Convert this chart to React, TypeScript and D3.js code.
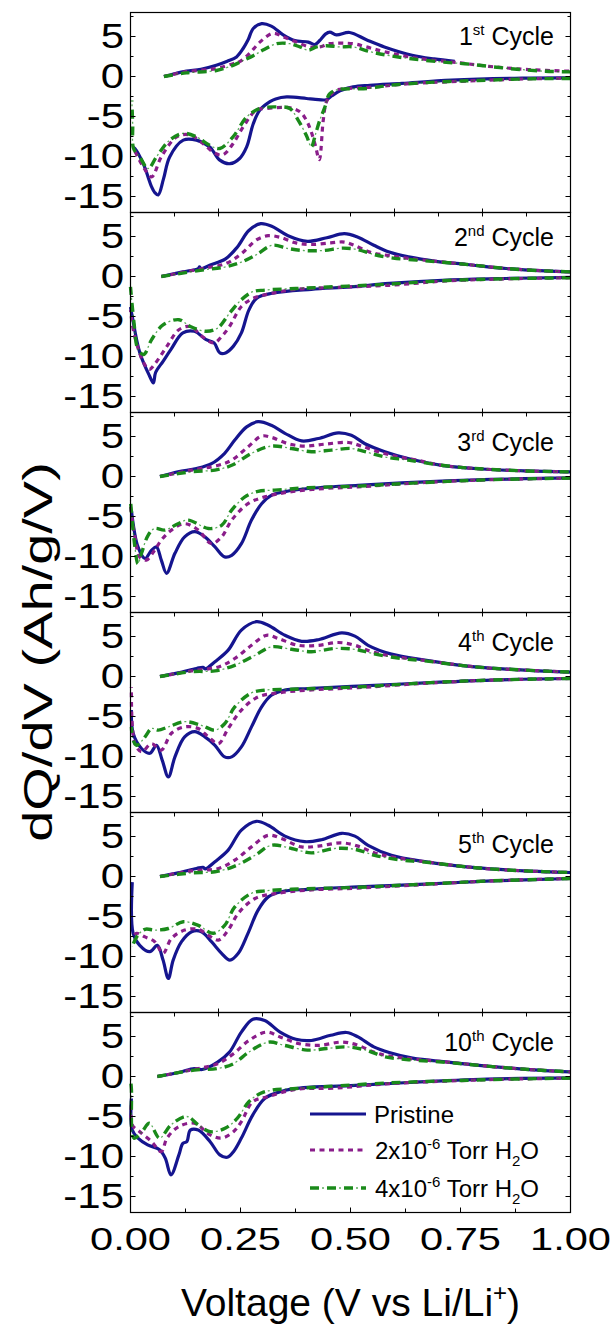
import React from 'react';
import * as d3 from 'd3';

type Pt = [number, number];

// ---------- tick / label data ----------
const xTickLabels = ['0.00', '0.25', '0.50', '0.75', '1.00'];
const xTickValues = [0, 0.25, 0.5, 0.75, 1.0];
const yMajorTicks = [5, 0, -5, -10, -15];
const yMinorTicks = [7.5, 2.5, -2.5, -7.5, -12.5];
const cycleNumbers = ['1', '2', '3', '4', '5', '10'];
const cycleSuffixes = ['st', 'nd', 'rd', 'th', 'th', 'th'];
const seriesNames = ['Pristine', '2x10', '4x10'];

// ---------- Cycle 1 ----------
const c1PristineCharge: Pt[] = [[0.076,0],[0.10,0.35],[0.127,0.67],[0.16,0.9],[0.195,1.4],[0.22,1.9],[0.241,2.45],[0.256,3.5],[0.267,4.55],[0.279,6.0],[0.298,6.6],[0.32,6.3],[0.347,5.2],[0.373,4.5],[0.404,4.3],[0.419,4.0],[0.43,4.5],[0.443,5.3],[0.453,5.55],[0.468,5.2],[0.498,5.5],[0.536,4.6],[0.577,3.7],[0.64,2.66],[0.69,2.2],[0.737,1.9]];
const c1PristineDischarge: Pt[] = [[1.0,-0.17],[0.89,-0.2],[0.73,-0.45],[0.617,-0.85],[0.544,-1.1],[0.506,-1.3],[0.476,-1.8],[0.458,-2.4],[0.445,-2.9],[0.42,-2.85],[0.4,-2.75],[0.355,-2.55],[0.33,-2.8],[0.317,-3.15],[0.294,-4.2],[0.279,-5.9],[0.264,-8.8],[0.248,-10.25],[0.226,-10.9],[0.203,-10.45],[0.18,-8.8],[0.15,-7.95],[0.12,-7.95],[0.089,-10.05],[0.075,-12.8],[0.063,-14.8],[0.055,-14.5],[0.048,-13.8],[0.029,-10.9],[0.01,-9.0],[0.005,-8.8]];
const c1H2Charge: Pt[] = [[0.076,0],[0.127,0.6],[0.195,1.0],[0.233,1.6],[0.248,1.85],[0.271,2.9],[0.294,4.3],[0.324,5.4],[0.347,4.95],[0.377,4.3],[0.407,3.7],[0.43,3.7],[0.453,4.1],[0.506,4.1],[0.536,3.7],[0.577,3.1],[0.655,2.25],[0.733,1.8],[0.764,1.6],[0.827,1.2],[0.905,0.87],[1.0,0.66]];
const c1H2Discharge: Pt[] = [[1.0,-0.2],[0.9,-0.3],[0.75,-0.6],[0.62,-0.95],[0.544,-1.35],[0.506,-1.45],[0.468,-1.7],[0.455,-2.3],[0.445,-3.2],[0.438,-5.5],[0.429,-10.4],[0.42,-8.6],[0.41,-6.8],[0.4,-5.5],[0.385,-4.4],[0.36,-3.9],[0.309,-4.0],[0.286,-4.2],[0.256,-6.3],[0.233,-8.4],[0.21,-9.8],[0.192,-9.6],[0.165,-8.4],[0.135,-7.3],[0.105,-7.55],[0.07,-10.05],[0.048,-12.55],[0.029,-11.3],[0.01,-9.4],[0.004,-9.0]];
const c1H4Charge: Pt[] = [[0.076,0],[0.127,0.45],[0.195,0.75],[0.233,1.4],[0.256,2.0],[0.279,2.6],[0.301,3.3],[0.332,4.1],[0.362,4.1],[0.385,3.7],[0.404,3.3],[0.423,3.7],[0.445,3.85],[0.475,3.7],[0.506,3.7],[0.545,3.1],[0.59,2.6],[0.655,2.1],[0.733,1.7],[0.76,1.6],[0.86,1.0],[0.943,0.66],[1.0,0.58]];
const c1H4Discharge: Pt[] = [[1.0,-0.25],[0.905,-0.3],[0.79,-0.5],[0.69,-0.7],[0.59,-1.1],[0.538,-1.5],[0.47,-1.65],[0.452,-2.2],[0.442,-3.8],[0.43,-5.5],[0.42,-7.3],[0.411,-8.8],[0.4,-7.4],[0.381,-5.45],[0.362,-4.0],[0.332,-3.8],[0.294,-4.0],[0.264,-5.05],[0.233,-7.55],[0.203,-9.0],[0.18,-8.6],[0.15,-7.55],[0.12,-7.1],[0.089,-7.95],[0.059,-10.05],[0.04,-11.5],[0.021,-10.05],[0.007,-9.0],[0.005,-6.0],[0.003,-3.0]];

// ---------- Cycle 2 ----------
const c2PristineCharge: Pt[] = [[0.07,0],[0.119,0.58],[0.154,1.0],[0.157,1.2],[0.16,0.95],[0.18,1.4],[0.216,2.2],[0.243,3.7],[0.269,5.75],[0.296,6.6],[0.322,6.25],[0.358,5.1],[0.402,4.4],[0.446,4.85],[0.486,5.35],[0.517,4.9],[0.553,3.9],[0.588,3.05],[0.632,2.45],[0.694,1.9],[0.765,1.5],[0.854,1.0],[0.942,0.7],[1.0,0.58]];
const c2PristineDischarge: Pt[] = [[1.0,-0.12],[0.854,-0.25],[0.72,-0.45],[0.588,-0.87],[0.5,-1.3],[0.411,-1.6],[0.322,-2.1],[0.287,-2.7],[0.269,-4.2],[0.252,-7.05],[0.234,-8.7],[0.216,-9.55],[0.203,-9.55],[0.19,-8.3],[0.172,-7.9],[0.145,-6.85],[0.119,-7.05],[0.092,-9.1],[0.074,-10.6],[0.057,-12.0],[0.052,-13.3],[0.043,-12.4],[0.021,-9.5],[0.004,-5.0],[0.0,-3.8]];
const c2H2Charge: Pt[] = [[0.07,0],[0.163,1.0],[0.216,1.6],[0.252,2.85],[0.287,4.6],[0.313,5.1],[0.34,4.9],[0.376,4.2],[0.411,4.0],[0.455,4.2],[0.486,4.3],[0.508,3.9],[0.544,3.05],[0.588,2.6],[0.641,2.2],[0.694,1.9],[0.765,1.5],[0.854,1.0],[0.942,0.7],[1.0,0.58]];
const c2H2Discharge: Pt[] = [[1.0,-0.15],[0.854,-0.3],[0.72,-0.55],[0.588,-1.1],[0.473,-1.35],[0.376,-1.6],[0.305,-2.3],[0.278,-2.75],[0.252,-3.75],[0.225,-6.25],[0.207,-7.5],[0.19,-8.3],[0.163,-7.5],[0.136,-6.25],[0.11,-6.65],[0.083,-8.7],[0.057,-10.8],[0.043,-11.6],[0.03,-10.8],[0.008,-7.1],[0.0,-4.2]];
const c2H4Charge: Pt[] = [[0.07,0],[0.163,0.8],[0.216,1.2],[0.252,1.8],[0.287,2.75],[0.322,3.9],[0.358,3.5],[0.393,3.25],[0.438,3.25],[0.482,3.55],[0.517,3.35],[0.553,2.75],[0.597,2.3],[0.65,2.05],[0.694,1.85],[0.765,1.5],[0.854,1.0],[0.942,0.7],[1.0,0.58]];
const c2H4Discharge: Pt[] = [[1.0,-0.15],[0.854,-0.28],[0.72,-0.5],[0.588,-0.95],[0.376,-1.5],[0.305,-1.7],[0.278,-1.9],[0.252,-2.9],[0.225,-4.6],[0.198,-6.45],[0.172,-6.85],[0.136,-6.25],[0.11,-5.4],[0.074,-6.05],[0.048,-7.9],[0.03,-9.75],[0.017,-9.1],[0.008,-5.8],[0.0,-1.3]];

// ---------- Cycle 3 ----------
const c3PristineCharge: Pt[] = [[0.067,0],[0.108,0.6],[0.15,1.0],[0.184,1.6],[0.214,2.9],[0.237,4.55],[0.264,6.2],[0.29,6.85],[0.32,6.4],[0.351,5.4],[0.389,4.45],[0.427,4.75],[0.472,5.45],[0.502,5.15],[0.533,4.1],[0.578,3.1],[0.631,2.25],[0.707,1.4],[0.783,1.0],[0.896,0.7],[1.0,0.58]];
const c3PristineDischarge: Pt[] = [[1.0,-0.17],[0.82,-0.37],[0.669,-0.67],[0.517,-1.1],[0.404,-1.5],[0.351,-1.9],[0.32,-2.35],[0.298,-3.4],[0.275,-5.45],[0.252,-8.4],[0.23,-9.85],[0.214,-10.05],[0.192,-8.8],[0.169,-7.55],[0.146,-6.9],[0.123,-7.55],[0.101,-9.6],[0.082,-12.1],[0.07,-10.45],[0.059,-8.8],[0.048,-9.2],[0.033,-10.25],[0.017,-8.8],[0.002,-4.2]];
const c3H2Charge: Pt[] = [[0.067,0],[0.139,0.8],[0.2,1.4],[0.23,2.05],[0.267,3.7],[0.298,5.05],[0.32,4.9],[0.358,4.1],[0.396,3.8],[0.442,4.05],[0.495,4.25],[0.525,3.8],[0.563,3.1],[0.608,2.45],[0.65,2.05],[0.707,1.4],[0.783,1.0],[0.896,0.7],[1.0,0.58]];
const c3H2Discharge: Pt[] = [[1.0,-0.2],[0.82,-0.4],[0.669,-0.75],[0.517,-1.3],[0.442,-1.5],[0.366,-1.9],[0.305,-2.55],[0.267,-3.4],[0.23,-5.45],[0.207,-7.55],[0.184,-8.4],[0.154,-6.7],[0.123,-5.9],[0.093,-6.7],[0.07,-7.95],[0.055,-9.2],[0.036,-10.45],[0.021,-10.05],[0.01,-7.55],[0.0,-3.8]];
const c3H4Charge: Pt[] = [[0.067,0],[0.139,0.6],[0.192,0.8],[0.23,1.4],[0.275,2.9],[0.32,3.8],[0.366,3.5],[0.411,3.1],[0.457,3.3],[0.502,3.5],[0.533,3.1],[0.578,2.45],[0.631,2.05],[0.707,1.4],[0.783,1.0],[0.896,0.7],[1.0,0.58]];
const c3H4Discharge: Pt[] = [[1.0,-0.2],[0.82,-0.4],[0.669,-0.75],[0.517,-1.2],[0.404,-1.4],[0.328,-1.7],[0.29,-1.85],[0.26,-2.55],[0.23,-4.2],[0.207,-6.1],[0.177,-6.5],[0.131,-5.45],[0.108,-5.9],[0.078,-6.7],[0.055,-6.5],[0.04,-7.35],[0.025,-9.6],[0.017,-10.9],[0.01,-8.8],[0.0,-3.0]];

// ---------- Cycle 4 ----------
const c4PristineCharge: Pt[] = [[0.067,0],[0.108,0.45],[0.15,1.0],[0.165,1.15],[0.17,0.95],[0.192,1.85],[0.222,3.3],[0.252,5.8],[0.286,6.85],[0.313,6.4],[0.351,5.15],[0.389,4.4],[0.427,4.6],[0.48,5.45],[0.51,5.05],[0.54,3.9],[0.593,2.8],[0.669,2.05],[0.783,1.2],[0.896,0.8],[1.0,0.55]];
const c4PristineDischarge: Pt[] = [[1.0,-0.25],[0.82,-0.45],[0.669,-0.8],[0.517,-1.2],[0.404,-1.5],[0.351,-1.7],[0.32,-2.35],[0.298,-3.8],[0.275,-6.3],[0.252,-8.8],[0.23,-10.05],[0.214,-10.05],[0.192,-8.6],[0.169,-7.55],[0.146,-6.9],[0.123,-7.55],[0.101,-10.05],[0.086,-12.55],[0.072,-10.45],[0.059,-8.6],[0.044,-9.6],[0.025,-9.0],[0.006,-7.1],[0.002,-4.2]];
const c4H2Charge: Pt[] = [[0.067,0],[0.139,0.7],[0.2,1.2],[0.237,2.25],[0.275,3.9],[0.309,5.15],[0.336,4.75],[0.381,3.9],[0.427,3.9],[0.472,4.25],[0.51,3.9],[0.548,3.1],[0.593,2.55],[0.669,2.0],[0.783,1.2],[0.896,0.8],[1.0,0.55]];
const c4H2Discharge: Pt[] = [[1.0,-0.25],[0.82,-0.45],[0.669,-0.85],[0.517,-1.4],[0.404,-1.7],[0.336,-2.05],[0.29,-2.55],[0.252,-4.2],[0.222,-6.5],[0.2,-8.4],[0.177,-7.55],[0.154,-6.5],[0.123,-6.3],[0.093,-7.1],[0.07,-9.2],[0.048,-8.4],[0.025,-9.4],[0.01,-8.4],[0.002,-1.3]];
const c4H4Charge: Pt[] = [[0.067,0],[0.139,0.6],[0.192,0.7],[0.237,1.4],[0.283,2.65],[0.32,3.7],[0.366,3.4],[0.411,3.1],[0.464,3.5],[0.51,3.4],[0.548,2.9],[0.608,2.3],[0.669,1.95],[0.783,1.2],[0.896,0.8],[1.0,0.55]];
const c4H4Discharge: Pt[] = [[1.0,-0.25],[0.82,-0.45],[0.669,-0.8],[0.517,-1.3],[0.366,-1.6],[0.305,-1.7],[0.275,-2.05],[0.237,-3.8],[0.214,-5.9],[0.192,-6.7],[0.161,-6.1],[0.123,-5.65],[0.086,-6.3],[0.063,-6.7],[0.048,-6.5],[0.033,-7.55],[0.014,-8.6],[0.006,-7.95],[0.002,-6.3]];

// ---------- Cycle 5 ----------
const c5PristineCharge: Pt[] = [[0.067,0],[0.108,0.45],[0.15,1.0],[0.165,1.15],[0.17,0.95],[0.192,1.85],[0.222,3.3],[0.252,5.8],[0.286,6.9],[0.313,6.4],[0.351,5.05],[0.396,4.35],[0.434,4.6],[0.48,5.4],[0.51,5.05],[0.54,3.9],[0.593,2.65],[0.669,1.85],[0.783,1.1],[0.896,0.7],[1.0,0.5]];
const c5PristineDischarge: Pt[] = [[1.0,-0.25],[0.82,-0.55],[0.669,-0.95],[0.517,-1.3],[0.404,-1.6],[0.343,-1.9],[0.313,-2.55],[0.29,-4.2],[0.267,-7.1],[0.245,-9.6],[0.226,-10.45],[0.207,-9.6],[0.184,-8.15],[0.161,-6.9],[0.139,-6.9],[0.116,-8.15],[0.097,-10.45],[0.086,-12.75],[0.074,-10.45],[0.061,-8.6],[0.044,-9.4],[0.021,-8.6],[0.006,-7.1],[0.004,-0.7]];
const c5H2Charge: Pt[] = [[0.067,0],[0.139,0.7],[0.2,1.0],[0.237,2.05],[0.275,3.7],[0.313,5.15],[0.343,4.75],[0.389,3.7],[0.427,3.8],[0.48,4.2],[0.517,3.8],[0.555,2.95],[0.593,2.45],[0.669,1.85],[0.783,1.1],[0.896,0.7],[1.0,0.5]];
const c5H2Discharge: Pt[] = [[1.0,-0.25],[0.82,-0.55],[0.669,-1.0],[0.517,-1.45],[0.404,-1.7],[0.328,-2.15],[0.283,-2.75],[0.245,-4.6],[0.222,-6.7],[0.2,-7.95],[0.177,-7.35],[0.154,-6.6],[0.123,-6.7],[0.093,-7.75],[0.074,-9.6],[0.055,-8.15],[0.033,-7.55],[0.014,-7.1],[0.004,-7.55]];
const c5H4Charge: Pt[] = [[0.067,0],[0.139,0.45],[0.192,0.6],[0.237,1.3],[0.283,2.65],[0.32,3.9],[0.366,3.5],[0.411,2.95],[0.464,3.5],[0.51,3.4],[0.555,2.65],[0.608,2.1],[0.669,1.8],[0.783,1.1],[0.896,0.7],[1.0,0.5]];
const c5H4Discharge: Pt[] = [[1.0,-0.25],[0.82,-0.55],[0.669,-0.95],[0.517,-1.35],[0.366,-1.6],[0.305,-1.8],[0.275,-2.1],[0.237,-3.8],[0.214,-6.1],[0.188,-7.1],[0.154,-6.1],[0.12,-5.65],[0.086,-6.5],[0.055,-6.7],[0.033,-6.6],[0.014,-7.55],[0.004,-8.8]];

// ---------- Cycle 10 ----------
const c10PristineCharge: Pt[] = [[0.061,0],[0.11,0.5],[0.145,1.0],[0.163,0.87],[0.198,1.8],[0.225,3.05],[0.252,5.55],[0.278,7.15],[0.305,7.0],[0.34,5.55],[0.376,4.65],[0.411,4.5],[0.455,5.15],[0.491,5.5],[0.517,4.95],[0.553,3.7],[0.588,3.0],[0.641,2.3],[0.721,1.8],[0.81,1.3],[0.898,0.9],[1.0,0.58]];
const c10PristineDischarge: Pt[] = [[1.0,-0.17],[0.81,-0.33],[0.632,-0.75],[0.5,-1.15],[0.393,-1.4],[0.34,-1.9],[0.305,-2.75],[0.278,-4.8],[0.252,-7.7],[0.234,-9.4],[0.22,-10.1],[0.203,-9.8],[0.181,-8.15],[0.154,-6.7],[0.136,-6.7],[0.128,-8.15],[0.119,-8.35],[0.11,-9.8],[0.092,-12.3],[0.079,-10.2],[0.066,-9.15],[0.039,-8.55],[0.017,-7.7],[0.004,-6.7],[0.002,-2.75]];
const c10H2Charge: Pt[] = [[0.061,0],[0.145,0.9],[0.198,1.6],[0.234,2.85],[0.269,4.5],[0.309,5.55],[0.34,4.95],[0.384,4.1],[0.429,3.9],[0.482,4.3],[0.517,3.9],[0.553,3.05],[0.588,2.55],[0.641,2.2],[0.721,1.8],[0.81,1.3],[0.898,0.9],[1.0,0.58]];
const c10H2Discharge: Pt[] = [[1.0,-0.2],[0.81,-0.4],[0.588,-0.9],[0.464,-1.45],[0.376,-1.6],[0.314,-2.5],[0.278,-3.15],[0.252,-5.65],[0.234,-6.9],[0.207,-7.7],[0.181,-7.3],[0.145,-5.85],[0.11,-6.25],[0.083,-7.7],[0.07,-9.4],[0.048,-8.15],[0.021,-6.9],[0.004,-6.05],[0.002,-3.55]];
const c10H4Charge: Pt[] = [[0.061,0],[0.145,0.8],[0.198,1.0],[0.234,1.6],[0.269,3.05],[0.314,4.3],[0.349,3.9],[0.402,3.3],[0.446,3.5],[0.491,3.7],[0.535,3.3],[0.579,2.45],[0.632,2.1],[0.721,1.75],[0.81,1.3],[0.898,0.9],[1.0,0.58]];
const c10H4Discharge: Pt[] = [[1.0,-0.2],[0.81,-0.4],[0.588,-0.8],[0.376,-1.5],[0.322,-1.7],[0.296,-2.1],[0.269,-3.15],[0.243,-5.2],[0.216,-6.45],[0.181,-6.9],[0.154,-6.05],[0.128,-5.0],[0.092,-6.05],[0.066,-7.7],[0.043,-5.85],[0.026,-6.9],[0.008,-7.7],[0.002,-1.5],[0.0,-0.25]];

const pristineCurves: Pt[][][] = [
  [c1PristineCharge, c1PristineDischarge], [c2PristineCharge, c2PristineDischarge], [c3PristineCharge, c3PristineDischarge],
  [c4PristineCharge, c4PristineDischarge], [c5PristineCharge, c5PristineDischarge], [c10PristineCharge, c10PristineDischarge],
];
const h2Curves: Pt[][][] = [
  [c1H2Charge, c1H2Discharge], [c2H2Charge, c2H2Discharge], [c3H2Charge, c3H2Discharge],
  [c4H2Charge, c4H2Discharge], [c5H2Charge, c5H2Discharge], [c10H2Charge, c10H2Discharge],
];
const h4Curves: Pt[][][] = [
  [c1H4Charge, c1H4Discharge], [c2H4Charge, c2H4Discharge], [c3H4Charge, c3H4Discharge],
  [c4H4Charge, c4H4Discharge], [c5H4Charge, c5H4Discharge], [c10H4Charge, c10H4Discharge],
];

// ---------- layout ----------
const W = 611, H = 1326;
const X0 = 130.5, X1 = 570.5;
const TOP0 = 12.5, PH = 200;
const labelOffsets = [32, 33, 38, 38, 40, 38];

const COL_P = '#15158f';
const COL_M = '#8a1d8a';
const COL_G = '#1a8a1a';
const FONT = "'Liberation Sans', Arial, Helvetica, sans-serif";

const xScale = d3.scaleLinear().domain([0, 1]).range([X0, X1]);
const yScaleFor = (i: number) =>
  d3.scaleLinear().domain([-17, 8]).range([TOP0 + PH * (i + 1), TOP0 + PH * i]);

function GreenPath({ d }: { d: string }) {
  return (
    <g fill="none" stroke={COL_G}>
      <path d={d} strokeWidth={3.4} strokeDasharray="9 8" />
      <path d={d} strokeWidth={1.3} strokeOpacity={0.7} strokeDasharray="0 12 2 3" />
    </g>
  );
}

function Panel({ i }: { i: number }) {
  const y = yScaleFor(i);
  const line = d3.line<Pt>().x(d => xScale(d[0])).y(d => y(d[1])).curve(d3.curveCatmullRom.alpha(0.5));
  const top = TOP0 + PH * i;
  const bottom = top + PH;
  const isLast = i === 5;
  const xTop = d3.range(1, 10).map(k => k / 10);
  const xBottom = isLast ? [0.125, 0.25, 0.375, 0.5, 0.625, 0.75, 0.875] : [0.2, 0.4, 0.6, 0.8];
  return (
    <g>
      {pristineCurves[i].map((c, k) => (
        <path key={'p' + k} d={line(c) || ''} fill="none" stroke={COL_P} strokeWidth={3.2} strokeLinejoin="round" />
      ))}
      {h2Curves[i].map((c, k) => (
        <path key={'m' + k} d={line(c) || ''} fill="none" stroke={COL_M} strokeWidth={3.2} strokeDasharray="5 4.5" />
      ))}
      {h4Curves[i].map((c, k) => (
        <GreenPath key={'g' + k} d={line(c) || ''} />
      ))}
      <rect x={X0} y={top} width={X1 - X0} height={PH} fill="none" stroke="#000" strokeWidth={1.2} />
      {yMajorTicks.map(v => (
        <g key={'ym' + v}>
          <line x1={X0} x2={X0 + 5} y1={y(v)} y2={y(v)} stroke="#000" />
          <line x1={X1} x2={X1 - 5} y1={y(v)} y2={y(v)} stroke="#000" />
          <text transform={`translate(${X0 - 6.5},${y(v) + 11.5}) scale(1.2,1)`} textAnchor="end"
            fontFamily={FONT} fontSize={35} fill="#000">{v}</text>
        </g>
      ))}
      {yMinorTicks.map(v => (
        <g key={'yn' + v}>
          <line x1={X0} x2={X0 + 3} y1={y(v)} y2={y(v)} stroke="#000" />
          <line x1={X1} x2={X1 - 3} y1={y(v)} y2={y(v)} stroke="#000" />
        </g>
      ))}
      {i > 0 && xTop.map(v => (
        <line key={'xt' + v} x1={xScale(v)} x2={xScale(v)} y1={top} y2={top + 4} stroke="#000" />
      ))}
      {xBottom.map(v => (
        <line key={'xb' + v} x1={xScale(v)} x2={xScale(v)} y1={bottom} y2={bottom - (isLast && (v * 4) % 1 === 0 ? 5 : 4)} stroke="#000" />
      ))}
      <text x={554} y={top + labelOffsets[i]} textAnchor="end" fontFamily={FONT} fontSize={25} fill="#000">
        {cycleNumbers[i]}
        <tspan fontSize={15} dy={-10}>{cycleSuffixes[i]}</tspan>
        <tspan dy={10}>{' Cycle'}</tspan>
      </text>
    </g>
  );
}

export default function App() {
  const legendY = [1114, 1150, 1188];
  return (
    <svg width={W} height={H} viewBox={`0 0 ${W} ${H}`}
      style={{ position: 'absolute', left: 0, top: 0, background: '#fff' }}>
      <rect x={0} y={0} width={W} height={H} fill="#fff" />
      {d3.range(6).map(i => <Panel key={i} i={i} />)}
      {xTickValues.map((v, k) => (
        <text key={'xl' + k} transform={`translate(${xScale(v)},1250) scale(1.3,1)`} textAnchor="middle"
          fontFamily={FONT} fontSize={32} fill="#000">{xTickLabels[k]}</text>
      ))}
      <text x={xScale(0.5)} y={1316} textAnchor="middle" fontFamily={FONT} fontSize={39} fill="#000">
        Voltage (V vs Li/Li<tspan fontSize={24} dy={-15}>+</tspan><tspan dy={15}>)</tspan>
      </text>
      <text transform={`translate(52,652) rotate(-90) scale(1.4,1)`} textAnchor="middle" fontFamily={FONT} fontSize={40} fill="#000">
        dQ/dV (Ah/g/V)
      </text>
      <g>
        <line x1={310} x2={366} y1={legendY[0]} y2={legendY[0]} stroke={COL_P} strokeWidth={3.2} />
        <text x={374} y={legendY[0] + 9} fontFamily={FONT} fontSize={24} fill="#000">{seriesNames[0]}</text>
        <line x1={310} x2={366} y1={legendY[1]} y2={legendY[1]} stroke={COL_M} strokeWidth={3.2} strokeDasharray="5 4.5" />
        <text x={375} y={legendY[1] + 9} fontFamily={FONT} fontSize={24} fill="#000">
          {seriesNames[1]}<tspan fontSize={15} dy={-10}>-6</tspan><tspan dy={10}>{' Torr H'}</tspan>
          <tspan fontSize={15} dy={7}>2</tspan><tspan dy={-7}>O</tspan>
        </text>
        <GreenPath d={`M310,${legendY[2]}H366`} />
        <text x={375} y={legendY[2] + 9} fontFamily={FONT} fontSize={24} fill="#000">
          {seriesNames[2]}<tspan fontSize={15} dy={-10}>-6</tspan><tspan dy={10}>{' Torr H'}</tspan>
          <tspan fontSize={15} dy={7}>2</tspan><tspan dy={-7}>O</tspan>
        </text>
      </g>
    </svg>
  );
}
